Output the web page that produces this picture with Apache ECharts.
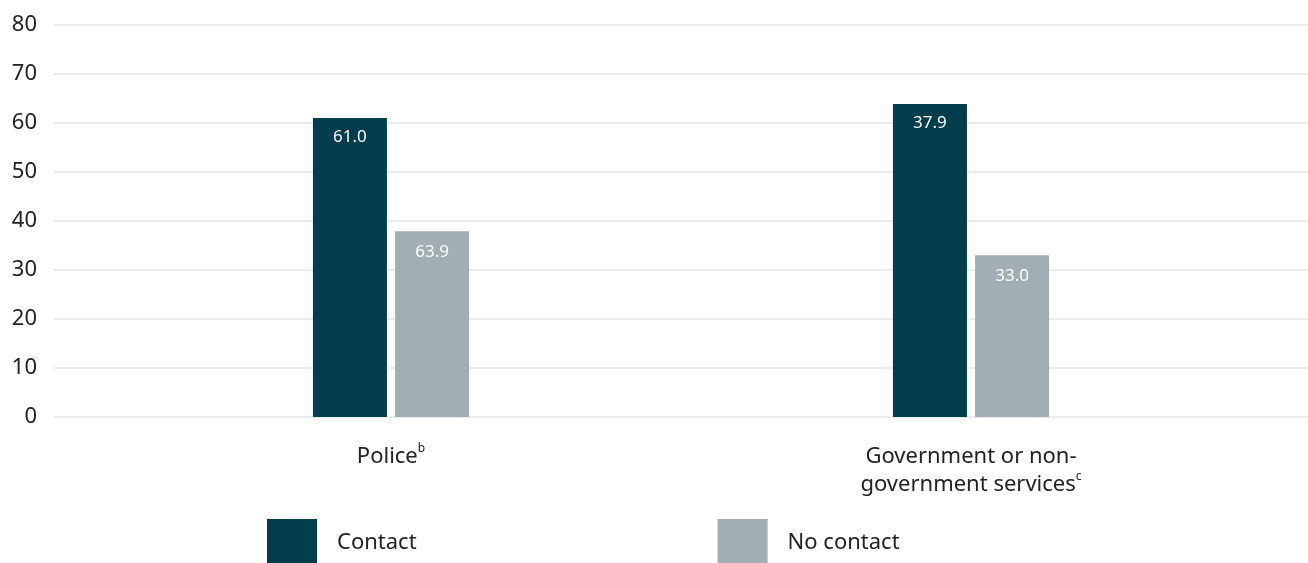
<!DOCTYPE html>
<html><head><meta charset="utf-8">
<script src="https://cdn.jsdelivr.net/npm/echarts@6/dist/echarts.min.js"></script>
<style>html,body{margin:0;padding:0;background:#fff}#c{width:1308px;height:563px}</style>
</head><body><div id="c"></div>
<script>
const categories = ['Police', 'Government or non-\ngovernment services'];
const superscripts = ['b', 'c'];
const seriesNames = ['Contact', 'No contact'];
const contactValues = [61.0, 63.9];
const noContactValues = [37.9, 33.0];
const contactLabels = ['61.0', '37.9'];
const noContactLabels = ['63.9', '33.0'];
const yTicks = [0, 10, 20, 30, 40, 50, 60, 70, 80];

const FONT = '"Noto Sans", sans-serif';
const chart = echarts.init(document.getElementById('c'));
chart.setOption({
  animation: false,
  textStyle: { fontFamily: FONT },
  grid: [
    { left: 54, right: 0, top: 25, bottom: 146, containLabel: false },
    { left: 101, right: 47, top: 25, bottom: 146, containLabel: false }
  ],
  legend: {
    left: 267, top: 519, padding: 0, itemWidth: 50, itemHeight: 44, itemGap: 301,
    icon: 'rect',
    formatter: n => '{t|' + n + '}',
    textStyle: { fontSize: 22, color: '#222', fontFamily: FONT, padding: [0, 0, 0, 15],
      rich: { t: { fontSize: 22, color: '#222', fontFamily: FONT, padding: [4, 0, 0, 0] } } },
    data: seriesNames
  },
  xAxis: [
    { gridIndex: 0, type: 'value', show: false, min: 0, max: 1 },
    {
      gridIndex: 1, type: 'category', data: categories,
      axisLine: { show: false }, axisTick: { show: false },
      axisLabel: {
        margin: 26, fontSize: 22, color: '#222', lineHeight: 28, fontFamily: FONT,
        formatter: (v, i) => v + '{s|' + superscripts[i] + '}',
        rich: { s: { fontSize: 12, verticalAlign: 'top', padding: [0, 0, 12, 0], color: '#222', fontFamily: FONT } }
      }
    }
  ],
  yAxis: [
    {
      gridIndex: 0, type: 'value', min: yTicks[0], max: yTicks[yTicks.length - 1], interval: 10,
      axisLine: { show: false }, axisTick: { show: false },
      axisLabel: { fontSize: 22, color: '#222', margin: 17, fontFamily: FONT },
      splitLine: { lineStyle: { color: '#ececec', width: 2 } }
    },
    {
      gridIndex: 1, type: 'value', min: 0, max: 80, interval: 10, show: false,
      splitLine: { show: false }
    }
  ],
  series: [
    {
      name: seriesNames[0], type: 'bar', xAxisIndex: 1, yAxisIndex: 1,
      data: contactValues, barWidth: 74, barGap: '11%',
      itemStyle: { color: '#023d4b' },
      label: { show: true, position: 'insideTop', distance: 11, color: '#fff', fontSize: 17, fontFamily: FONT,
        formatter: p => contactLabels[p.dataIndex] }
    },
    {
      name: seriesNames[1], type: 'bar', xAxisIndex: 1, yAxisIndex: 1,
      data: noContactValues, barWidth: 74, barGap: '11%',
      itemStyle: { color: '#a1aeb4' },
      label: { show: true, position: 'insideTop', distance: 12, color: '#fff', fontSize: 17, fontFamily: FONT,
        formatter: p => noContactLabels[p.dataIndex] }
    }
  ]
});
</script></body></html>
